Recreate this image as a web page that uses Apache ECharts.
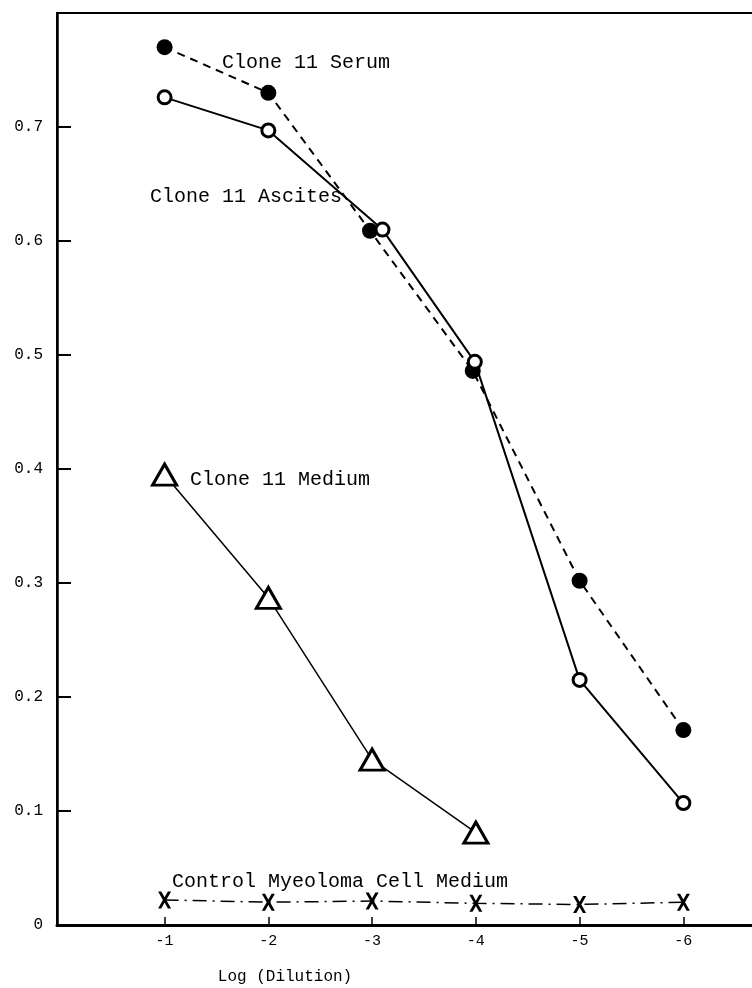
<!DOCTYPE html>
<html>
<head>
<meta charset="utf-8">
<script src="https://cdn.jsdelivr.net/npm/echarts@6/dist/echarts.min.js"></script>
<style>
  html, body { margin: 0; padding: 0; background: #fff; }
  #chart { width: 752px; height: 988px; }
</style>
</head>
<body>
<div id="chart"></div>
<script>
// log dilution ticks
const dilutionTicks = [-1, -2, -3, -4, -5, -6]
const yTicks = [0.1, 0.2, 0.3, 0.4, 0.5, 0.6, 0.7]

// Clone 11 Serum (filled circles, dashed)
const serumX = [-1, -2, -2.98, -3.97, -5, -6]
const serumY = [0.770, 0.730, 0.609, 0.486, 0.302, 0.171]

// Clone 11 Ascites (open circles, solid)
const ascitesX = [-1, -2, -3.1, -3.99, -5, -6]
const ascitesY = [0.726, 0.697, 0.610, 0.494, 0.215, 0.107]

// Clone 11 Medium (triangles)
const mediumX = [-1, -2, -3, -4]
const mediumY = [0.395, 0.287, 0.145, 0.081]

// Control Myeoloma Cell Medium (X marks, dash-dot)
const controlX = [-1, -2, -3, -4, -5, -6]
const controlY = [0.022, 0.020, 0.021, 0.019, 0.018, 0.020]

const pairs = (xs, ys) => xs.map((x, i) => [x, ys[i]])

const crossPath = 'path://M0,0 L3.2,0 L6.5,5.8 L9.8,0 L13,0 L8.2,8.5 L13,17 L9.8,17 L6.5,11.2 L3.2,17 L0,17 L4.8,8.5 Z'

const monoFont = 'Liberation Mono'

const chart = echarts.init(document.getElementById('chart'))
chart.setOption({
  animation: false,
  backgroundColor: '#fff',
  grid: {
    left: 57,
    right: -4,
    top: 13,
    bottom: 63,
    show: true,
    borderColor: '#000',
    borderWidth: 2,
    outerBoundsMode: 'none'
  },
  xAxis: {
    type: 'value',
    min: -6.7,
    max: 0.037,
    inverse: true,
    axisLine: { lineStyle: { color: '#000', width: 3 } },
    axisTick: {
      inside: true,
      length: 8,
      customValues: dilutionTicks,
      lineStyle: { color: '#000', width: 1.5 }
    },
    axisLabel: {
      customValues: dilutionTicks,
      formatter: v => String(v),
      color: '#000',
      fontFamily: monoFont,
      fontSize: 15,
      margin: 9
    },
    splitLine: { show: false }
  },
  yAxis: {
    type: 'value',
    min: 0,
    max: 0.8,
    interval: 0.1,
    axisLine: { show: true, onZero: false, lineStyle: { color: '#000', width: 2.5 } },
    axisTick: {
      inside: true,
      length: 14,
      customValues: yTicks,
      lineStyle: { color: '#000', width: 2 }
    },
    axisLabel: {
      customValues: [0].concat(yTicks),
      formatter: v => (v === 0 ? '0' : v.toFixed(1)),
      color: '#000',
      fontFamily: monoFont,
      fontSize: 16,
      margin: 14
    },
    splitLine: { show: false }
  },
  series: [
    {
      name: 'Clone 11 Serum',
      type: 'line',
      data: pairs(serumX, serumY),
      symbol: 'circle',
      symbolSize: 16,
      itemStyle: { color: '#000' },
      lineStyle: { color: '#000', width: 2, type: [8, 6] },
      emphasis: { disabled: true },
      z: 3
    },
    {
      name: 'Clone 11 Ascites',
      type: 'line',
      data: pairs(ascitesX, ascitesY),
      symbol: 'circle',
      symbolSize: 13,
      itemStyle: { color: '#fff', borderColor: '#000', borderWidth: 3 },
      lineStyle: { color: '#000', width: 2 },
      emphasis: { disabled: true },
      z: 4
    },
    {
      name: 'Clone 11 Medium',
      type: 'line',
      data: pairs(mediumX, mediumY),
      symbol: 'triangle',
      symbolSize: [24, 21],
      itemStyle: { color: '#fff', borderColor: '#000', borderWidth: 3 },
      lineStyle: { color: '#000', width: 1.5 },
      emphasis: { disabled: true },
      z: 3
    },
    {
      name: 'Control Myeoloma Cell Medium',
      type: 'line',
      data: pairs(controlX, controlY),
      symbol: crossPath,
      symbolSize: [13, 17],
      itemStyle: { color: '#000' },
      lineStyle: { color: '#000', width: 1.5, type: [14, 6, 2, 6] },
      emphasis: { disabled: true },
      z: 3
    }
  ],
  graphic: [
    { type: 'text', x: 222, y: 63, style: { text: 'Clone 11 Serum', font: '20px "Liberation Mono"', fill: '#000', verticalAlign: 'middle' } },
    { type: 'text', x: 150, y: 197, style: { text: 'Clone 11 Ascites', font: '20px "Liberation Mono"', fill: '#000', verticalAlign: 'middle' } },
    { type: 'text', x: 190, y: 480, style: { text: 'Clone 11 Medium', font: '20px "Liberation Mono"', fill: '#000', verticalAlign: 'middle' } },
    { type: 'text', x: 172, y: 882, style: { text: 'Control Myeoloma Cell Medium', font: '20px "Liberation Mono"', fill: '#000', verticalAlign: 'middle' } },
    { type: 'text', x: 285, y: 977, style: { text: 'Log (Dilution)', font: '16px "Liberation Mono"', fill: '#000', align: 'center', verticalAlign: 'middle' } }
  ]
})
</script>
</body>
</html>
